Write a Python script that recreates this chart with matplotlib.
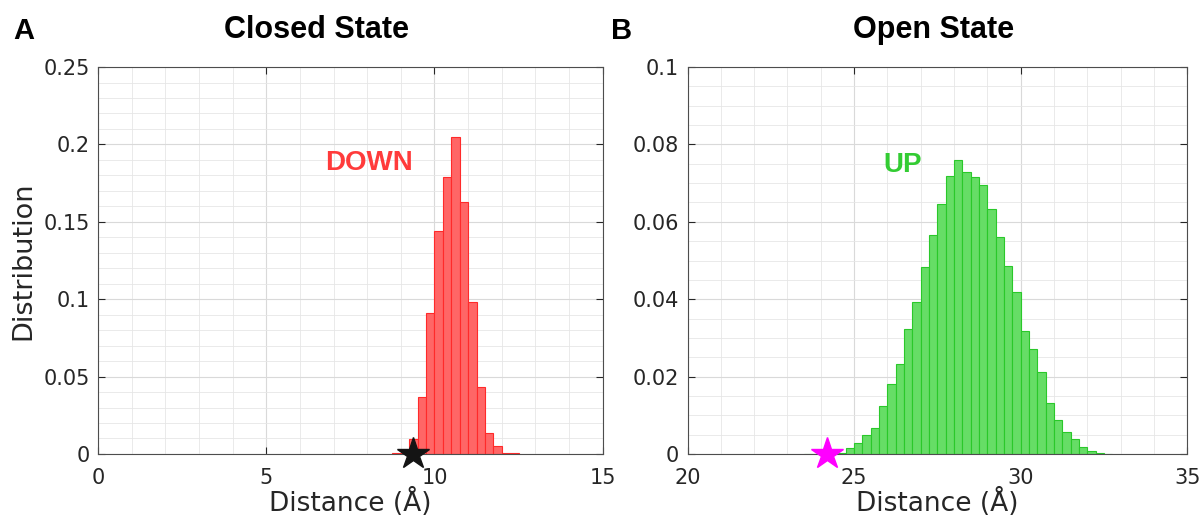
import numpy as np
import matplotlib.pyplot as plt
from matplotlib.ticker import MultipleLocator

# closed state histogram (bin width 0.25 A)
closed_start = 8.75
closed_vals = [0.0005, 0.0006, 0.0097, 0.037, 0.091, 0.144, 0.179, 0.205,
               0.163, 0.098, 0.043, 0.0136, 0.005, 0.0006, 0.0004]
closed_star = 9.35

# open state histogram (bin width 0.25 A)
open_start = 23.5
open_vals = [0.0001, 0.0001, 0.0001, 0.0001, 0.0003, 0.0016, 0.0028, 0.0048,
             0.0067, 0.0124, 0.0182, 0.0233, 0.0324, 0.0392, 0.0482, 0.0565,
             0.0645, 0.0718, 0.076, 0.0728, 0.0716, 0.0694, 0.0634, 0.0561,
             0.0485, 0.0418, 0.0318, 0.0271, 0.0213, 0.0131, 0.0089, 0.0057,
             0.0038, 0.0018, 0.0007, 0.0003, 0.0001]
open_star = 24.2
bin_w = 0.25

dark = '#262626'
fig = plt.figure(figsize=(12.03, 5.18), dpi=100)
ax1 = fig.add_axes([0.0815, 0.1236, 0.4195, 0.747])
ax2 = fig.add_axes([0.5715, 0.1236, 0.4155, 0.747])


def fmt(v):
    return f'{v:.3f}'.rstrip('0').rstrip('.')


def style(ax, xlim, ylim, xmaj, ymaj, xmin, ymin):
    ax.set_xlim(*xlim)
    ax.set_ylim(*ylim)
    ax.xaxis.set_major_locator(MultipleLocator(xmaj))
    ax.yaxis.set_major_locator(MultipleLocator(ymaj))
    ax.xaxis.set_minor_locator(MultipleLocator(xmin))
    ax.yaxis.set_minor_locator(MultipleLocator(ymin))
    ax.grid(which='major', color='#d9d9d9', lw=0.8)
    ax.grid(which='minor', color='#e6e6e6', lw=0.6)
    ax.set_axisbelow(True)
    ax.tick_params(which='major', direction='in', top=True, right=True,
                   length=5, width=0.8, color=dark, labelsize=15,
                   labelcolor=dark)
    ax.tick_params(axis='x', pad=10)
    ax.tick_params(axis='y', pad=6)
    ax.tick_params(which='minor', length=0)
    ax.yaxis.set_major_formatter(lambda v, p: fmt(v))
    for s in ax.spines.values():
        s.set_color('#4d4d4d')
        s.set_linewidth(0.8)
    ax.set_xlabel('Distance (Å)', fontsize=19, color=dark, labelpad=0)


# left panel
ce = closed_start + bin_w * np.arange(len(closed_vals))
ax1.bar(ce, closed_vals, width=bin_w, align='edge', color='#ff6666',
        edgecolor='#ff2a2a', linewidth=0.8, zorder=2)
ax1.plot([closed_star], [0], marker='*', color='#141414', markersize=24,
         clip_on=False, zorder=5, linestyle='')
style(ax1, (0, 15), (0, 0.25), 5, 0.05, 1, 0.01)
ax1.set_ylabel('Distribution', fontsize=19.5, color=dark, labelpad=5)
ax1.text(8.04, 0.188, 'DOWN', color='#ff3b3b', fontsize=20, fontweight='bold',
         family='Liberation Sans', ha='center', va='center')
ax1.text(0.432, 1.095, 'Closed State', transform=ax1.transAxes, fontsize=22,
         fontweight='bold', family='Liberation Sans', ha='center', va='center')

# right panel
oe = open_start + bin_w * np.arange(len(open_vals))
ax2.bar(oe, open_vals, width=bin_w, align='edge', color='#66dd66',
        edgecolor='#2ac82a', linewidth=0.8, zorder=2)
ax2.plot([open_star], [0], marker='*', color='#ff00ff', markersize=24,
         clip_on=False, zorder=5, linestyle='')
style(ax2, (20, 35), (0, 0.1), 5, 0.02, 1, 0.005)
ax2.text(26.45, 0.0746, 'UP', color='#33cc33', fontsize=20, fontweight='bold',
         family='Liberation Sans', ha='center', va='center')
ax2.text(0.492, 1.095, 'Open State', transform=ax2.transAxes, fontsize=22,
         fontweight='bold', family='Liberation Sans', ha='center', va='center')

fig.text(0.011, 0.94, 'A', fontsize=21, fontweight='bold',
         family='Liberation Sans', va='center')
fig.text(0.508, 0.94, 'B', fontsize=21, fontweight='bold',
         family='Liberation Sans', va='center')

fig.savefig('out.png', dpi=100, facecolor='white')
